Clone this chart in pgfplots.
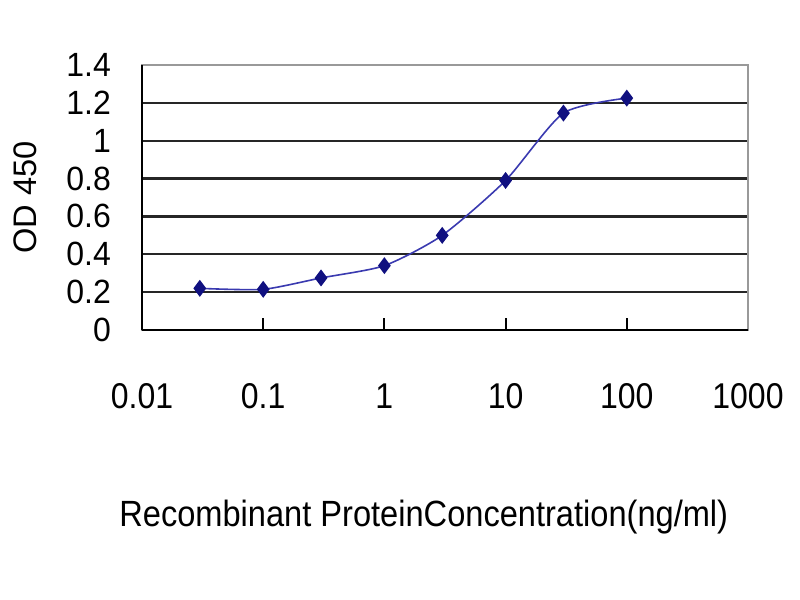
\documentclass[border=0pt]{standalone}
\usepackage{pgfplots}
\pgfplotsset{compat=1.18}
\usepackage{fontspec}
\setmainfont{Liberation Sans}
\definecolor{navy}{HTML}{101080}
\definecolor{lineblue}{HTML}{3A3AB0}
\begin{document}
\begin{tikzpicture}
\begin{axis}[
  at={(0,0)}, anchor=south west,
  scale only axis, width=303pt, height=132.5pt,
  xmode=log, xmin=0.01, xmax=1000,
  ymin=0, ymax=1.4,
  ytick={0,0.2,0.4,0.6,0.8,1,1.2,1.4},
  yticklabels={0,0.2,0.4,0.6,0.8,1,1.2,1.4},
  xtick={0.01,0.1,1,10,100,1000},
  xticklabels={0.01,0.1,1,10,100,1000},
  xminorticks=false,
  ymajorgrids, major grid style={black!85, line width=1.2pt},
  axis line style={gray!80, line width=1pt},
  xtick style={black, line width=1pt}, major tick length=6pt,
  ytick style={draw=none},
  xtick pos=bottom, xtick align=inside,
  tick label style={font=\fontsize{16}{18}\selectfont},
  xticklabel style={yshift=-23pt, yscale=1.12},
  yticklabel style={xshift=-12pt, yscale=1.05},
  /pgf/number format/assume math mode=true,
  xlabel={Recombinant ProteinConcentration(ng/ml)},
  xlabel style={at={(axis description cs:0.465,0)}, anchor=center, yshift=-93.5pt, font=\fontsize{16.3}{18}\selectfont, yscale=1.12},
  ylabel={OD 450},
  ylabel style={at={(axis description cs:-0.193,0.5)}, anchor=center, font=\fontsize{16.3}{18}\selectfont},
  clip=false,
]
\addplot[lineblue, line width=0.8pt, smooth, tension=0.4, mark=diamond*, mark size=3.6pt, mark options={navy, fill=navy}]
  coordinates {(0.03,0.22) (0.1,0.215) (0.3,0.275) (1,0.34) (3,0.50) (10,0.79) (30,1.146) (100,1.225)};
\draw[black, line width=1.2pt] (rel axis cs:0,0) -- (rel axis cs:0,1);
\draw[black, line width=1.2pt] (rel axis cs:0,0) -- (rel axis cs:1,0);
\end{axis}
\path[use as bounding box] (-71pt,-135pt) rectangle (329pt,165pt);
\end{tikzpicture}
\end{document}
